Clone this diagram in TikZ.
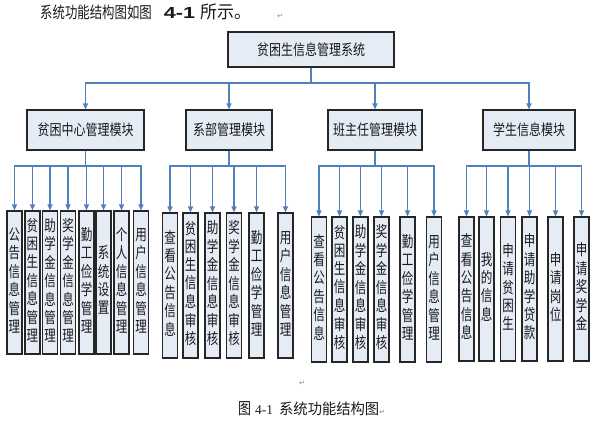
\documentclass[tikz,border=0pt]{standalone}
\usepackage{fontspec}
\usepackage{graphicx}
\setmainfont{Liberation Serif}
\newfontfamily\cjk{Noto Sans CJK SC}
\newfontfamily\arw{DejaVu Sans}
\newfontfamily\lsans{Liberation Sans}
\usetikzlibrary{arrows.meta}
\definecolor{conn}{HTML}{4F81BD}
\definecolor{boxfill}{HTML}{E6ECF6}
\definecolor{boxline}{HTML}{262626}
\definecolor{txt}{HTML}{1A1A1A}
\newcommand{\vs}[1]{\scalebox{1}[1.25]{#1}}
\newcommand{\vcol}[1]{\scalebox{1}[1.35]{\begin{tabular}{@{}c@{}}#1\end{tabular}}}
\newcommand{\pmark}{{\arw\color{gray}\fontsize{7}{8}\selectfont ↵}}
\begin{document}
\begin{tikzpicture}[x=1pt,y=-1pt,
  box/.style={draw=boxline, line width=1.1pt, fill=boxfill, inner sep=0pt, text=txt,
    font=\cjk\fontsize{12}{14}\selectfont},
  leaf/.style={box, minimum width=15pt, font=\cjk\fontsize{11.5}{13.3}\selectfont},
  link/.style={draw=conn, line width=1.1pt, -{Triangle[length=6pt,width=5pt]}},
  lbl/.style={inner sep=0pt, text=txt}]
\useasboundingbox (0,0) rectangle (597,421);
\coordinate (mb) at (0,83);
\coordinate (sb) at (0,166);

% header and caption
\node[lbl, anchor=base west] (hdr) at (40,18)
  {\cjk\fontsize{12.4}{14}\selectfont\scalebox{1}[1.3]{系统功能结构图如图}\hspace{12pt}{\lsans\bfseries\fontsize{16}{16}\selectfont\scalebox{1.35}[1]{4-1}}\hspace{5pt}{\fontsize{17}{16}\selectfont\scalebox{1}[1.05]{所示。}}\hspace{26pt}\pmark};
\node[lbl, anchor=base] (pm) at (302,385) {\pmark};
\node[lbl, anchor=base west] (cap) at (238,414)
  {\cjk\fontsize{13}{14}\selectfont\vs{图}\hspace{4pt}{\rmfamily\fontsize{13.5}{14}\selectfont 4-1}\hspace{6pt}\scalebox{1.1}[1.15]{系统功能结构图}\pmark};

% top
\node[box, minimum width=166pt, minimum height=35pt] (top) at (311,49.5) {\vs{贫困生信息管理系统}};

% level 2
\node[box, minimum width=117pt, minimum height=40pt] (A) at (85.5,130) {\vs{贫困中心管理模块}};
\node[box, minimum width=86pt, minimum height=40pt] (B) at (229,130) {\vs{系部管理模块}};
\node[box, minimum width=94pt, minimum height=40pt] (C) at (375,130) {\vs{班主任管理模块}};
\node[box, minimum width=92pt, minimum height=40pt] (D) at (529,130) {\vs{学生信息模块}};

\foreach \n in {A,B,C,D}
  \draw[link] (top.south) |- (\n.north |- mb) -- (\n.north);

% group A
\begin{scope}[every node/.style={leaf, minimum height=143pt}]
\node (a1) at (14.5,282.5) {\vcol{公\\告\\信\\息\\管\\理}};
\node (a2) at (32.5,282.5) {\vcol{贫\\困\\生\\信\\息\\管\\理}};
\node (a3) at (50,282.5) {\vcol{助\\学\\金\\信\\息\\管\\理}};
\node (a4) at (68,282.5) {\vcol{奖\\学\\金\\信\\息\\管\\理}};
\node (a5) at (86.5,282.5) {\vcol{勤\\工\\俭\\学\\管\\理}};
\node (a6) at (103.5,282.5) {\vcol{系\\统\\设\\置}};
\node (a7) at (121.5,282.5) {\vcol{个\\人\\信\\息\\管\\理}};
\node (a8) at (141,282.5) {\vcol{用\\户\\信\\息\\管\\理}};
\end{scope}
% group B
\begin{scope}[every node/.style={leaf, minimum height=145pt}]
\node (b1) at (170,285.5) {\vcol{查\\看\\公\\告\\信\\息}};
\node (b2) at (190.5,285.5) {\vcol{贫\\困\\生\\信\\息\\审\\核}};
\node (b3) at (212.5,285.5) {\vcol{助\\学\\金\\信\\息\\审\\核}};
\node (b4) at (234,285.5) {\vcol{奖\\学\\金\\信\\息\\审\\核}};
\node (b5) at (256.5,285.5) {\vcol{勤\\工\\俭\\学\\管\\理}};
\node (b6) at (285.5,285.5) {\vcol{用\\户\\信\\息\\管\\理}};
\end{scope}
% group C
\begin{scope}[every node/.style={leaf, minimum height=145pt}]
\node (c1) at (319,289.5) {\vcol{查\\看\\公\\告\\信\\息}};
\node (c2) at (339.5,289.5) {\vcol{贫\\困\\生\\信\\息\\审\\核}};
\node (c3) at (360.5,289.5) {\vcol{助\\学\\金\\信\\息\\审\\核}};
\node (c4) at (381.5,289.5) {\vcol{奖\\学\\金\\信\\息\\审\\核}};
\node (c5) at (407.5,289.5) {\vcol{勤\\工\\俭\\学\\管\\理}};
\node (c6) at (434,289.5) {\vcol{用\\户\\信\\息\\管\\理}};
\end{scope}
% group D
\begin{scope}[every node/.style={leaf, minimum height=144pt}]
\node (d1) at (466.5,289) {\vcol{查\\看\\公\\告\\信\\息}};
\node (d2) at (486.5,289) {\vcol{我\\的\\信\\息}};
\node (d3) at (508,289) {\vcol{申\\请\\贫\\困\\生}};
\node (d4) at (529.5,289) {\vcol{申\\请\\助\\学\\贷\\款}};
\node (d5) at (555.5,289) {\vcol{申\\请\\岗\\位}};
\node (d6) at (581.5,289) {\vcol{申\\请\\奖\\学\\金}};
\end{scope}

\foreach \p/\cs in {A/{a1,a2,a3,a4,a5,a6,a7,a8}, B/{b1,b2,b3,b4,b5,b6}, C/{c1,c2,c3,c4,c5,c6}, D/{d1,d2,d3,d4,d5,d6}}
  \foreach \c in \cs
    \draw[link] (\p.south) |- (\c.north |- sb) -- (\c.north);
\end{tikzpicture}
\end{document}
